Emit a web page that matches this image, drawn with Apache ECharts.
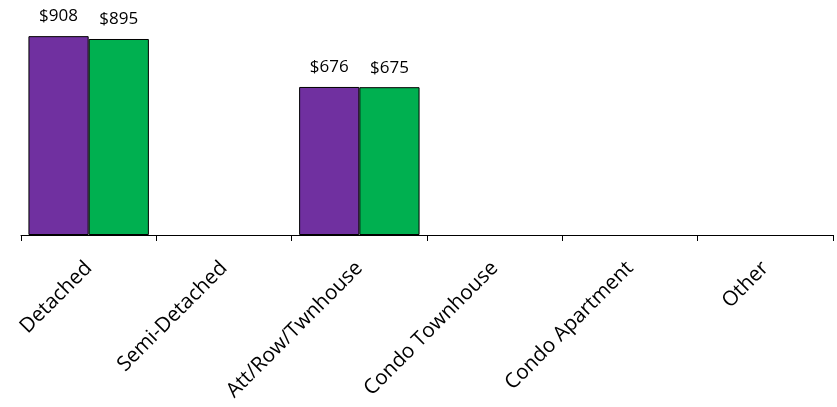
<!DOCTYPE html>
<html>
<head>
<meta charset="utf-8">
<script src="https://cdn.jsdelivr.net/npm/echarts@6/dist/echarts.min.js"></script>
<style>html,body{margin:0;padding:0;background:#fff;}#c{width:837px;height:407px;}</style>
</head>
<body>
<div id="c"></div>
<script>
var categories = ['Detached','Semi-Detached','Att/Row/Twnhouse','Condo Townhouse','Condo Apartment','Other'];
var seriesA = [908, null, 676, null, null, null];
var seriesB = [895, null, 675, null, null, null];
var chart = echarts.init(document.getElementById('c'), null, {renderer:'canvas'});
var labelCfg = {show:true, position:'top', distance:11, color:'#000', fontSize:17, fontFamily:'Open Sans',
  formatter:function(p){return '$'+p.value;}};
chart.setOption({
  animation:false,
  grid:{left:21, right:4, top:16, bottom:172, containLabel:false},
  xAxis:{type:'category', data:categories,
    axisLine:{lineStyle:{color:'#000', width:1}},
    axisTick:{show:true, alignWithLabel:false, length:6, lineStyle:{color:'#000'}},
    axisLabel:{rotate:45, interval:0, color:'#000', fontSize:20.6, fontFamily:'Open Sans', margin:30}},
  yAxis:{type:'value', min:0, max:1000, show:false, splitLine:{show:false}},
  series:[
    {type:'bar', data:seriesA, barGap:'0%', barCategoryGap:'11%',
     itemStyle:{color:'#7030A0', borderColor:'#000', borderWidth:1}, label:labelCfg},
    {type:'bar', data:seriesB, barGap:'0%', barCategoryGap:'11%',
     itemStyle:{color:'#00B050', borderColor:'#000', borderWidth:1}, label:labelCfg}
  ]
});
</script>
</body>
</html>
